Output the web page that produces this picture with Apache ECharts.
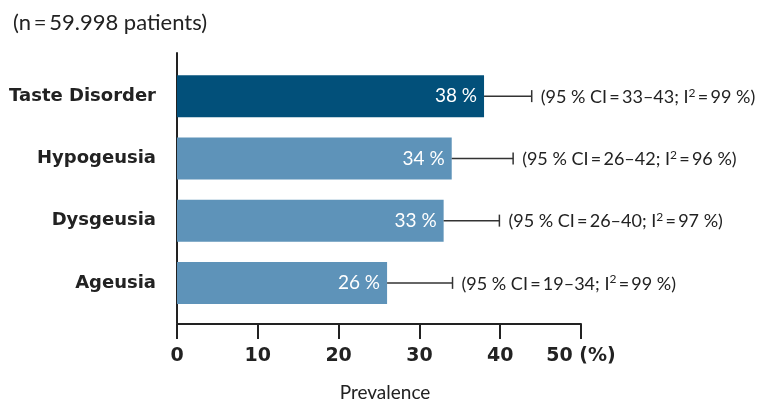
<!DOCTYPE html>
<html>
<head>
<meta charset="utf-8">
<script src="https://cdn.jsdelivr.net/npm/echarts@6/dist/echarts.min.js"></script>
<style>
  html, body { margin: 0; padding: 0; background: #fff; }
  .box { width: 764px; height: 402px; }
</style>
</head>
<body>
<div class="box"></div>
<script>
// data
var categories = ["Taste Disorder", "Hypogeusia", "Dysgeusia", "Ageusia"];
var prevalence = [38, 34, 33, 26];
var ciLow = [33, 26, 26, 19];
var ciHigh = [43, 42, 40, 34];
var whiskerEnd = [43.9, 41.6, 39.9, 34.1];
var iSquared = [99, 96, 97, 99];
var xTicks = [0, 10, 20, 30, 40, 50];

(function () {
    var myChart = echarts.init(document.querySelector(".box"));
    var font = "Lato";
    var boldFont = "DejaVu Sans";

    // first bar is dark, others light
    var barData = prevalence.map(function (v, i) {
        return {
            value: v,
            itemStyle: { color: i === 0 ? "#02507a" : "#5e93b9" }
        };
    });

    var errData = prevalence.map(function (v, i) {
        return [v, whiskerEnd[i], i];
    });

    var option = {
        animation: false,
        title: {
            text: "(n\u2009=\u200959.998 patients)",
            left: 8,
            top: 7,
            textStyle: { fontFamily: font, fontSize: 22, fontWeight: "normal", color: "#222" }
        },
        grid: [
            { left: 177, right: 183, top: 65, bottom: 88, outerBoundsMode: "none" },
            // only used for the tall y axis line
            { left: 177, right: 183, top: 53, bottom: 79, outerBoundsMode: "none" }
        ],
        xAxis: [
            {
                gridIndex: 0,
                type: "value",
                min: xTicks[0],
                max: xTicks[xTicks.length - 1],
                interval: 10,
                offset: 10,
                splitLine: { show: false },
                axisLine: { show: true, lineStyle: { color: "#222", width: 2 } },
                axisTick: { show: true, length: 15, lineStyle: { color: "#222", width: 2 } },
                axisLabel: {
                    margin: 23,
                    fontFamily: boldFont,
                    fontSize: 19,
                    fontWeight: "bold",
                    color: "#222",
                    formatter: function (v) { return v === 50 ? "50 (%)" : v; }
                },
                name: "Prevalence",
                nameLocation: "middle",
                nameGap: 59,
                nameTextStyle: { fontFamily: font, fontSize: 19, color: "#222", padding: [0, 0, 0, 12] }
            },
            { gridIndex: 1, type: "value", show: false }
        ],
        yAxis: [
            {
                gridIndex: 0,
                type: "category",
                data: categories,
                inverse: true,
                axisLine: { show: false },
                axisTick: { show: false },
                axisLabel: {
                    margin: 21,
                    fontFamily: boldFont,
                    fontSize: 18,
                    fontWeight: "bold",
                    color: "#222"
                }
            },
            {
                gridIndex: 1,
                type: "value",
                axisLine: { show: true, lineStyle: { color: "#222", width: 2 } },
                axisTick: { show: false },
                axisLabel: { show: false },
                splitLine: { show: false }
            }
        ],
        series: [
            {
                type: "bar",
                xAxisIndex: 0,
                yAxisIndex: 0,
                barWidth: 42,
                data: barData,
                label: {
                    show: true,
                    position: "insideRight",
                    distance: 7,
                    color: "#fff",
                    fontFamily: font,
                    fontSize: 19,
                    formatter: "{c} %"
                }
            },
            {
                type: "custom",
                xAxisIndex: 0,
                yAxisIndex: 0,
                encode: { x: [0, 1], y: 2 },
                data: errData,
                renderItem: function (params, api) {
                    var i = api.value(2);
                    var start = api.coord([api.value(0), i]);
                    var end = api.coord([api.value(1), i]);
                    var txt = "(95 % CI\u2009=\u2009" + ciLow[i] + "\u2013" + ciHigh[i] +
                        "; I{sup|2}\u2009=\u2009" + iSquared[i] + " %)";
                    return {
                        type: "group",
                        children: [
                            {
                                type: "line",
                                shape: { x1: start[0], y1: start[1], x2: end[0], y2: end[1] },
                                style: { stroke: "#333", lineWidth: 1.5 }
                            },
                            {
                                type: "line",
                                shape: { x1: end[0], y1: end[1] - 6, x2: end[0], y2: end[1] + 6 },
                                style: { stroke: "#333", lineWidth: 1.5 }
                            },
                            {
                                type: "text",
                                x: end[0] + 9,
                                y: end[1] + 1,
                                style: {
                                    text: txt,
                                    fill: "#222",
                                    fontFamily: font,
                                    fontSize: 18,
                                    verticalAlign: "middle",
                                    rich: {
                                        sup: { fontFamily: font, fontSize: 12, fill: "#222", verticalAlign: "bottom", padding: [0, 0, 9, 0] }
                                    }
                                }
                            }
                        ]
                    };
                },
                z: 3
            }
        ]
    };

    myChart.setOption(option);

    window.addEventListener("resize", function () {
        myChart.resize();
    });
})();
</script>
</body>
</html>
